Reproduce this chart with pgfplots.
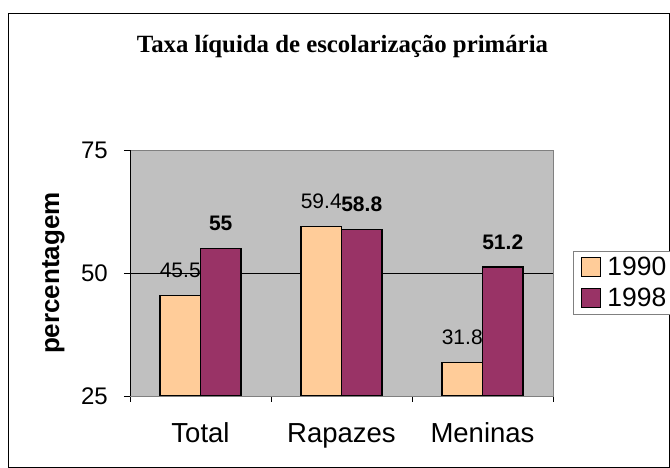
\documentclass[border=0pt]{standalone}
\usepackage{fontspec}
\setmainfont{Liberation Sans}
\newfontfamily\titlefont{Liberation Serif}
\usepackage{pgfplots}
\pgfplotsset{compat=1.18}
\definecolor{plotgray}{HTML}{C0C0C0}
\definecolor{peach}{HTML}{FFCC99}
\definecolor{plum}{HTML}{993366}
\begin{document}
\begin{tikzpicture}[x=1pt,y=1pt]
\useasboundingbox (0,0) rectangle (670,468);
\draw[line width=1pt] (8,0.5) rectangle (669.5,454);
\node[anchor=base, font=\titlefont\bfseries\fontsize{24.8}{28}\selectfont] at (342.5,415) {Taxa líquida de escolarização primária};
\begin{axis}[
  at={(130pt,72pt)}, anchor=south west,
  scale only axis, width=423pt, height=246pt,
  ymin=25, ymax=75, xmin=-0.5, xmax=2.5,
  ybar=0pt, bar width=40.5pt,
  axis background/.style={fill=plotgray},
  axis line style={draw=gray, line width=0.8pt},
  tick style={black, line width=0.8pt},
  major tick length=6pt, tick align=outside, tick pos=left,
  /pgf/number format/assume math mode=true,
  ytick={25,50,75},
  yticklabel style={font=\fontsize{24}{28}\selectfont, inner sep=0pt, anchor=east, xshift=-16pt},
  extra y ticks={50}, extra y tick labels={},
  extra y tick style={grid=major, major grid style={black, line width=0.8pt}, major tick length=0pt},
  xtick={-0.5,0.5,1.5,2.5}, xticklabels={},
  extra x ticks={0,1,2}, extra x tick labels={Total,Rapazes,Meninas},
  extra x tick style={major tick length=0pt, xticklabel style={anchor=base, inner sep=0pt, yshift=-47pt, font=\fontsize{27.5}{31}\selectfont}},
  ylabel={percentagem},
  ylabel style={at={(axis description cs:-0.181,0.5)}, anchor=center, inner sep=0pt, font=\bfseries\fontsize{26}{30}\selectfont},
  point meta=explicit symbolic,
  nodes near coords,
  every node near coord/.append style={anchor=south, inner sep=0pt, yshift=17pt, text=black},
  legend style={at={(axis description cs:1,0.5)}, anchor=west, xshift=20pt, yshift=-9.5pt,
    draw=gray, line width=0.8pt, font=\fontsize{26.5}{30}\selectfont,
    inner xsep=8pt, inner ysep=4pt, row sep=7pt,
    /tikz/every odd column/.append style={column sep=4pt}},
  legend cell align=left,
  legend image code/.code={\draw[#1, line width=1pt] (0pt,-9.5pt) rectangle (19pt,9.5pt);},
]
\addplot[fill=peach, draw=black, line width=1.2pt,
  every node near coord/.append style={font=\fontsize{21}{25}\selectfont}]
  coordinates {(0,45.5) [45.5] (1,59.4) [59.4] (2,31.8) [31.8]};
\addplot[fill=plum, draw=black, line width=1.2pt,
  every node near coord/.append style={font=\bfseries\fontsize{21}{25}\selectfont}]
  coordinates {(0,55) [55] (1,58.8) [58.8] (2,51.2) [51.2]};
\legend{1990,1998}
\draw[black, line width=0.8pt] (rel axis cs:0,1) -- (rel axis cs:0,0) -- (rel axis cs:1,0);
\end{axis}
\end{tikzpicture}
\end{document}
